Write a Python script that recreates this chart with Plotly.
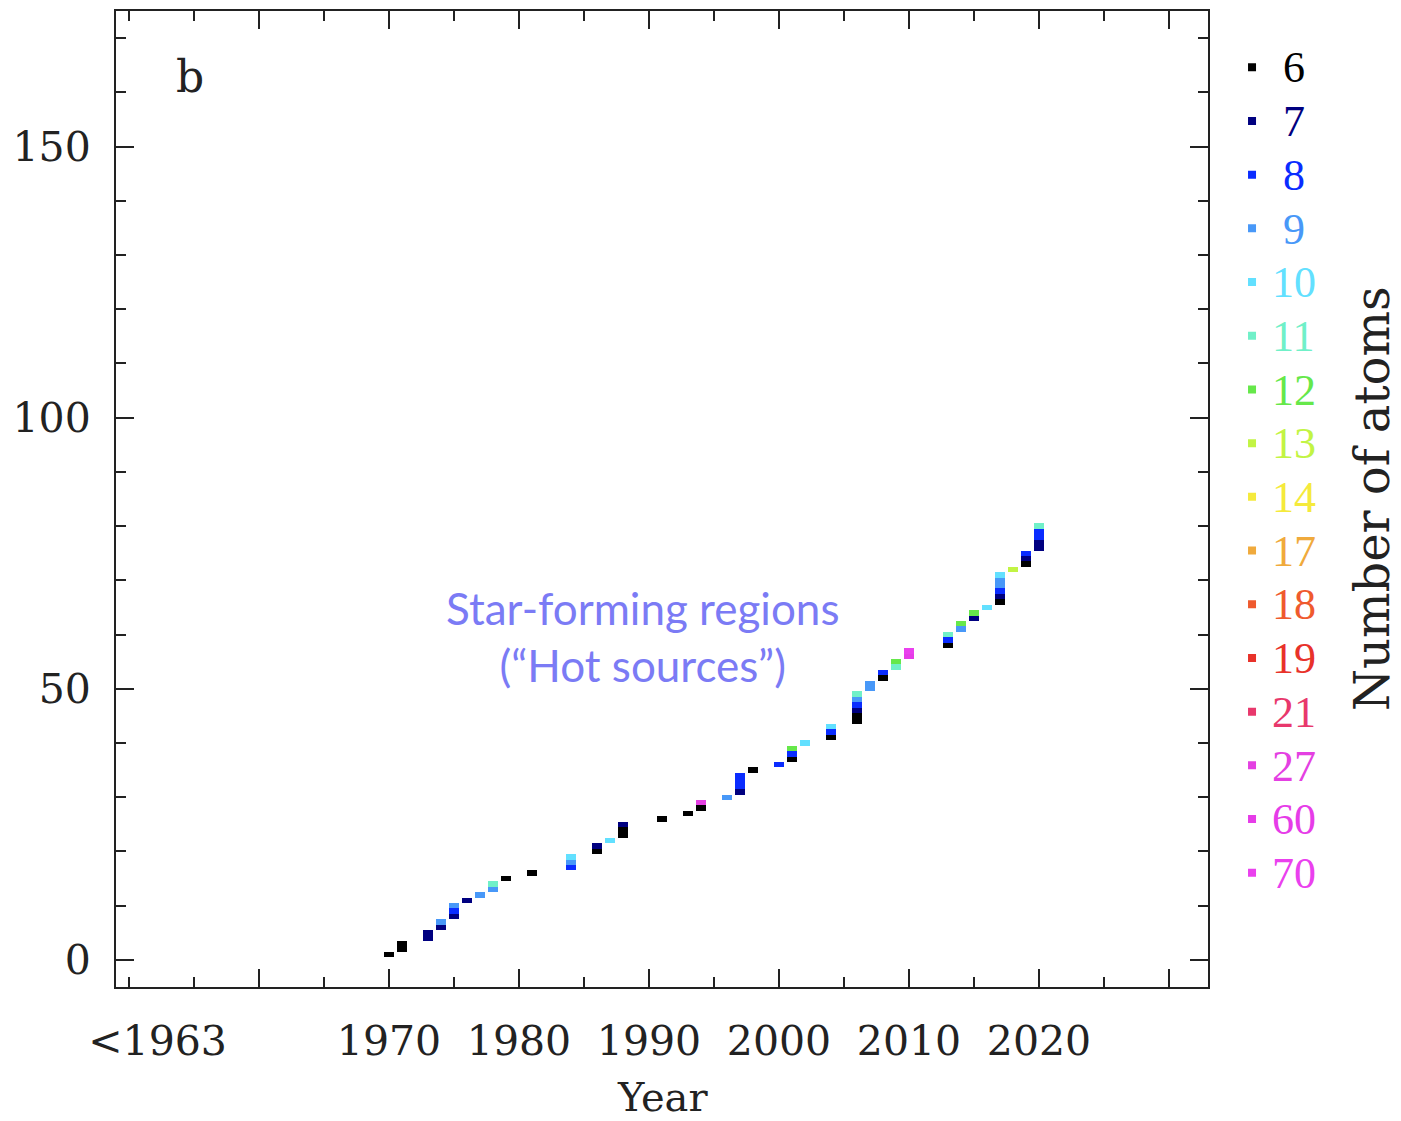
import plotly.graph_objects as go

# ---- data -------------------------------------------------------------
atom_classes = [6, 7, 8, 9, 10, 11, 12, 13, 14, 17, 18, 19, 21, 27, 60, 70]
class_colors = ["#000000", "#000080", "#0a2cff", "#4898f8", "#62e0ff", "#70f0c8",
                "#66e84a", "#c2f444", "#f5ea3c", "#f0aa3c", "#ef5a2e", "#e8322a",
                "#e8386c", "#e440e2", "#e63ce8", "#ea40ee"]

# detection year and number of atoms of each molecule (star-forming regions)
det_years = [1970,
             1971, 1971,
             1973, 1973,
             1974, 1974,
             1975, 1975, 1975,
             1976,
             1977,
             1978, 1978,
             1979,
             1981,
             1984, 1984, 1984,
             1986, 1986,
             1987,
             1988, 1988, 1988,
             1991,
             1993,
             1994, 1994,
             1996,
             1997, 1997, 1997, 1997,
             1998,
             2000,
             2001, 2001, 2001,
             2002,
             2004, 2004, 2004,
             2006, 2006, 2006, 2006, 2006, 2006,
             2007, 2007,
             2008, 2008,
             2009, 2009,
             2010, 2010,
             2013, 2013, 2013,
             2014, 2014,
             2015, 2015,
             2016,
             2017, 2017, 2017, 2017, 2017, 2017,
             2018,
             2019, 2019, 2019,
             2020, 2020, 2020, 2020, 2020]
det_atoms = [6,
             6, 6,
             7, 7,
             7, 9,
             7, 8, 9,
             7,
             9,
             9, 11,
             6,
             6,
             8, 9, 10,
             6, 7,
             10,
             6, 6, 7,
             6,
             6,
             6, 27,
             9,
             7, 8, 8, 8,
             6,
             8,
             6, 8, 12,
             10,
             6, 8, 10,
             6, 6, 7, 8, 9, 11,
             9, 9,
             6, 8,
             11, 12,
             60, 70,
             6, 8, 11,
             9, 12,
             7, 12,
             10,
             6, 7, 8, 9, 9, 10,
             13,
             6, 7, 8,
             7, 7, 8, 8, 11]

major_xticks = [1960, 1970, 1980, 1990, 2000, 2010, 2020, 2030]
minor_xticks = [1950, 1955, 1965, 1975, 1985, 1995, 2005, 2015, 2025]
xlabel_vals = [1952.2, 1970, 1980, 1990, 2000, 2010, 2020]
xlabel_text = ["<1963", "1970", "1980", "1990", "2000", "2010", "2020"]
y_ticks = [0, 50, 100, 150]

# ---- cumulative number --------------------------------------------------
order = sorted(range(len(det_years)), key=lambda i: (det_years[i], det_atoms[i]))
cum_index = [0] * len(det_years)
for k, i in enumerate(order):
    cum_index[i] = k + 1

SERIF = "DejaVu Serif"
fig = go.Figure()

for n, col in zip(atom_classes, class_colors):
    idx = [i for i in range(len(det_years)) if det_atoms[i] == n]
    if idx:
        fig.add_trace(go.Bar(
            x=[det_years[i] for i in idx],
            y=[1] * len(idx),
            base=[cum_index[i] - 0.5 for i in idx],
            width=0.82,
            marker=dict(color=col, line=dict(width=0)),
            showlegend=False, hoverinfo="skip"))

for n, col in zip(atom_classes, class_colors):
    label = ("\u00a0" if n < 10 else "") + str(n)
    fig.add_trace(go.Scatter(
        x=[None], y=[None], mode="markers",
        marker=dict(symbol="square", size=8, color=col),
        name='<span style="color:%s;font-size:44px">%s</span>' % (col, label)))

# invisible trace carrying the tick labels axis
fig.add_trace(go.Scatter(x=[None], y=[None], xaxis="x2", showlegend=False))

fig.update_layout(
    width=1401, height=1121,
    margin=dict(l=116, r=193, t=9, b=134),
    paper_bgcolor="white", plot_bgcolor="white",
    barmode="overlay", bargap=0,
    font=dict(family=SERIF, color="black"),
    xaxis=dict(range=[1949, 2033], showline=True, linewidth=2, linecolor="#222",
               mirror="ticks", ticks="inside", tickvals=major_xticks, ticklen=18,
               tickwidth=2, tickcolor="#222", showticklabels=False,
               showgrid=False, zeroline=False,
               minor=dict(tickvals=minor_xticks, ticks="inside", ticklen=10,
                          tickwidth=2, tickcolor="#222")),
    xaxis2=dict(range=[1949, 2033], overlaying="x", anchor="y", side="bottom",
                tickvals=xlabel_vals, ticktext=xlabel_text, ticks="",
                showline=False, showgrid=False, zeroline=False,
                tickfont=dict(family=SERIF, size=41, color="#222"),
                ticklabelstandoff=26),
    yaxis=dict(range=[-5, 175], showline=True, linewidth=2, linecolor="#222",
               mirror="ticks", ticks="inside", tickvals=y_ticks, ticklen=18,
               tickwidth=2, tickcolor="#222",
               tickfont=dict(family=SERIF, size=41, color="#222"),
               ticklabelstandoff=15,
               showgrid=False, zeroline=False,
               minor=dict(dtick=10, tick0=0, ticks="inside", ticklen=10,
                          tickwidth=2, tickcolor="#222")),
    legend=dict(x=1.022, xanchor="left", y=0.975, yanchor="top",
                font=dict(family="Liberation Serif", size=39),
                bgcolor="rgba(0,0,0,0)", borderwidth=0,
                itemclick=False, tracegroupgap=0),
    annotations=[
        dict(text="b", x=0.0678, y=0.9325, xref="paper", yref="paper",
             xanchor="center", yanchor="middle", showarrow=False,
             font=dict(family=SERIF, size=44, color="#222")),
        dict(text="Year", x=0.5, y=-0.113, xref="paper", yref="paper",
             xanchor="center", yanchor="middle", showarrow=False,
             font=dict(family=SERIF, size=40, color="#222")),
        dict(text="Number of atoms", x=1.1502, y=0.5, xref="paper", yref="paper",
             xanchor="center", yanchor="middle", textangle=-90, showarrow=False,
             font=dict(family=SERIF, size=48, color="#222")),
        dict(text="Star-forming regions<br>(\u201cHot sources\u201d)",
             x=0.4817, y=0.3594, xref="paper", yref="paper", showarrow=False,
             xanchor="center", yanchor="middle", align="center",
             font=dict(family="Lato", size=44, color="#7b7bf5")),
    ],
)

fig.write_html("out.html")
